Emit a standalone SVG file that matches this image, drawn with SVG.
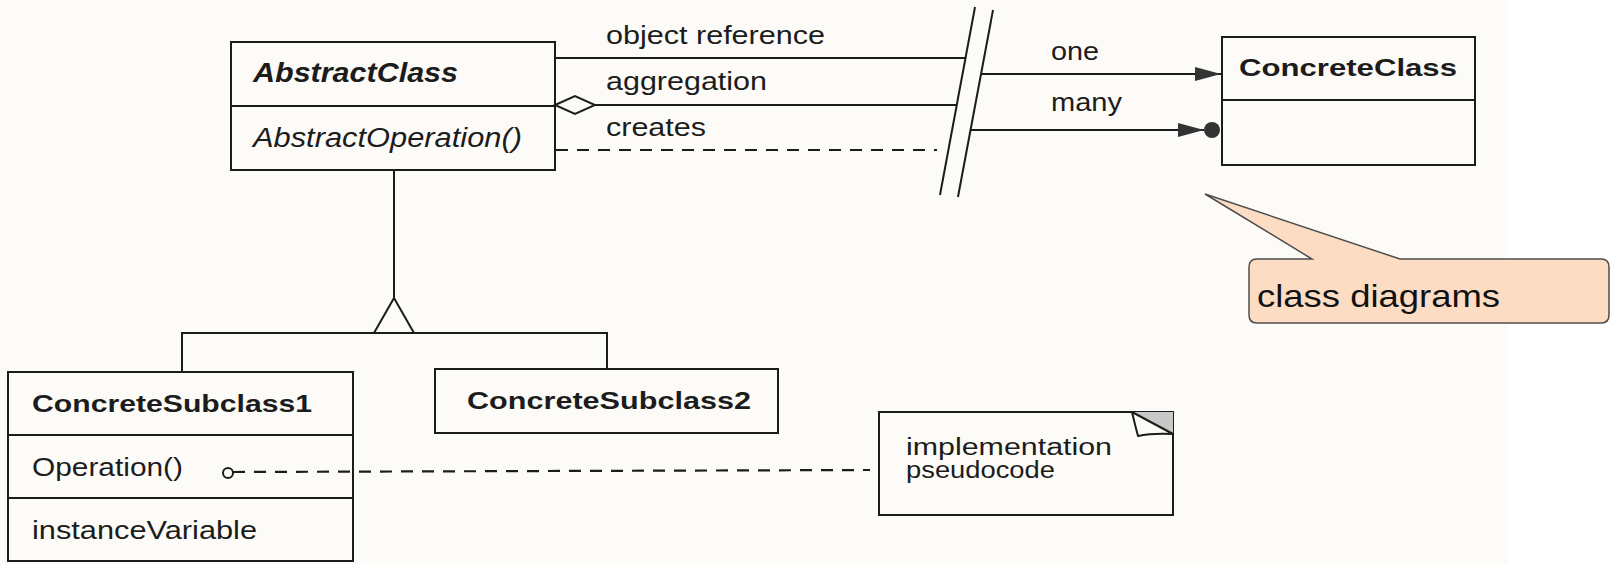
<svg xmlns="http://www.w3.org/2000/svg" width="1610" height="564" viewBox="0 0 1610 564">
  <style>
    .box { fill: none; stroke: #1c1c1c; stroke-width: 2; }
    .ln { fill: none; stroke: #1c1c1c; stroke-width: 2; }
    .dash { fill: none; stroke: #1c1c1c; stroke-width: 2.2; stroke-dasharray: 12 9; }
    .t { font-family: "Liberation Sans", Arial, sans-serif; fill: #1c1c1c; }
    .b { font-weight: bold; }
    .i { font-style: italic; }
  </style>
  <defs>
    <marker id="arrow" viewBox="0 0 26 14" refX="26" refY="7" markerWidth="26" markerHeight="14" markerUnits="userSpaceOnUse" orient="auto">
      <path d="M0,0 L26,7 L0,14 Z" fill="#333"/>
    </marker>
  </defs>

  <rect x="0" y="0" width="1610" height="564" fill="#ffffff"/>
  <rect x="0" y="0" width="1508" height="564" fill="#fcfbf7"/>

  <g id="AbstractClass">
    <rect class="box" x="231" y="42" width="324" height="128" fill="#fcfbf7"/>
    <line class="ln" x1="231" y1="106" x2="555" y2="106"/>
    <text class="t b i" x="253" y="82" font-size="27" textLength="205" lengthAdjust="spacingAndGlyphs">AbstractClass</text>
    <text class="t i" x="253" y="147" font-size="27" textLength="269" lengthAdjust="spacingAndGlyphs">AbstractOperation()</text>
  </g>

  <g id="ConcreteClass">
    <rect class="box" x="1222" y="37" width="253" height="128"/>
    <line class="ln" x1="1222" y1="100" x2="1475" y2="100"/>
    <text class="t b" x="1239" y="76" font-size="24" textLength="218" lengthAdjust="spacingAndGlyphs">ConcreteClass</text>
  </g>

  <g id="ConcreteSubclass1">
    <rect class="box" x="8" y="372" width="345" height="189"/>
    <line class="ln" x1="8" y1="435" x2="353" y2="435"/>
    <line class="ln" x1="8" y1="498" x2="353" y2="498"/>
    <text class="t b" x="32" y="412" font-size="24" textLength="280" lengthAdjust="spacingAndGlyphs">ConcreteSubclass1</text>
    <text class="t" x="32" y="476" font-size="25" textLength="151" lengthAdjust="spacingAndGlyphs">Operation()</text>
    <text class="t" x="32" y="539" font-size="25" textLength="225" lengthAdjust="spacingAndGlyphs">instanceVariable</text>
  </g>

  <g id="ConcreteSubclass2">
    <rect class="box" x="435" y="369" width="343" height="64"/>
    <text class="t b" x="467" y="409" font-size="24" textLength="284" lengthAdjust="spacingAndGlyphs">ConcreteSubclass2</text>
  </g>

  <g id="Note">
    <rect class="box" x="879" y="412" width="294" height="103"/>
    <polygon points="1132,412 1173,412 1173,434" fill="#c8c8c8" stroke="none"/>
    <path d="M1132,412 Q1135,425 1138,436 Q1152,433 1173,434 Z" fill="#fcfbf7" stroke="#1c1c1c" stroke-width="2" stroke-linejoin="round"/>
    <text class="t" x="906" y="455" font-size="23" textLength="206" lengthAdjust="spacingAndGlyphs">implementation</text>
    <text class="t" x="906" y="478" font-size="23" textLength="149" lengthAdjust="spacingAndGlyphs">pseudocode</text>
  </g>

  <g id="connectors">
    <line class="ln" x1="555" y1="58" x2="965" y2="58"/>
    <text class="t" x="606" y="44" font-size="26" textLength="219" lengthAdjust="spacingAndGlyphs">object reference</text>
    <polygon points="555,105 575,96 595,105 575,114" fill="#fcfbf7" stroke="#1c1c1c" stroke-width="2"/>
    <line class="ln" x1="595" y1="105" x2="957" y2="105"/>
    <text class="t" x="606" y="90" font-size="26" textLength="161" lengthAdjust="spacingAndGlyphs">aggregation</text>
    <line class="dash" x1="556" y1="150" x2="937" y2="150"/>
    <text class="t" x="606" y="136" font-size="26" textLength="100" lengthAdjust="spacingAndGlyphs">creates</text>
    <line class="ln" x1="975" y1="7" x2="940" y2="195"/>
    <line class="ln" x1="993" y1="10" x2="958" y2="197"/>
    <line class="ln" x1="981" y1="74" x2="1221" y2="74" marker-end="url(#arrow)"/>
    <text class="t" x="1051" y="60" font-size="26" textLength="48" lengthAdjust="spacingAndGlyphs">one</text>
    <line class="ln" x1="971" y1="130" x2="1204" y2="130" marker-end="url(#arrow)"/>
    <circle cx="1212" cy="130" r="8" fill="#333"/>
    <text class="t" x="1051" y="111" font-size="26" textLength="71" lengthAdjust="spacingAndGlyphs">many</text>
    <line class="ln" x1="394" y1="170" x2="394" y2="298"/>
    <polygon points="394,298 374,333 414,333" fill="#fcfbf7" stroke="#1c1c1c" stroke-width="2"/>
    <polyline class="ln" points="182,372 182,333 607,333 607,369"/>
    <circle cx="228" cy="473" r="5" fill="none" stroke="#1c1c1c" stroke-width="2"/>
    <line class="dash" x1="233" y1="472" x2="870" y2="470" stroke-dasharray="10 9"/>
  </g>

  <g id="Callout">
    <path d="M1257,259 H1312 L1205,194 L1400,259 H1601 Q1609,259 1609,267 V315 Q1609,323 1601,323 H1257 Q1249,323 1249,315 V267 Q1249,259 1257,259 Z" fill="#fddcc4" stroke="#4d4d4d" stroke-width="1.5"/>
    <text class="t" x="1257" y="307" font-size="32" textLength="243" lengthAdjust="spacingAndGlyphs" style="fill:#111">class diagrams</text>
  </g>
</svg>
